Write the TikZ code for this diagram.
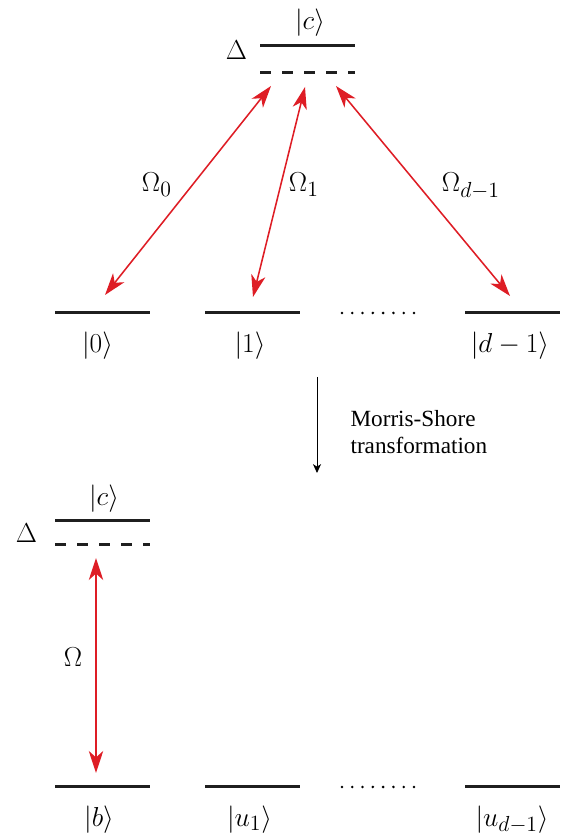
\RequirePackage{fix-cm}
\documentclass[tikz,border=0pt]{standalone}
\usepackage[no-math]{fontspec}
\usepackage{amsmath}
\usepackage{xcolor}
\usepackage{tikz}
\newfontfamily\captionfont{Liberation Serif}
\DeclareMathSizes{19.5}{19.5}{15.5}{12}
\usetikzlibrary{arrows.meta,calc,positioning}
\definecolor{laserred}{RGB}{222,29,37}

\begin{document}
\begin{tikzpicture}[
    every node/.style={font=\fontsize{19.5}{23}\selectfont,align=center},
    level/.style={
        fill=black!88,
        minimum width=2.375cm,
        minimum height=0.075cm,
        inner sep=0pt
    },
    shifted/.style={
        level,
        fill=none,
        path picture={\draw[black!88,line width=0.075cm,dash pattern=on 0.28cm off 0.27cm]
            (path picture bounding box.west) -- (path picture bounding box.east);}
    },
    coupling/.style={{Stealth[length=5.5mm,width=3.6mm,inset=1.6mm]}-{Stealth[length=5.5mm,width=3.6mm,inset=1.6mm]},
        color=laserred,line width=1.1pt},
    arrow/.style={-{Stealth[length=2.2mm,width=2mm,inset=0.6mm]},line width=0.6pt}
]
\useasboundingbox (0,0) rectangle (14.05,20.9);

% Excited state with detuning
\node[level] (excited) at (7.6875,19.75) {};
\node[shifted] (detuned) at (7.6875,19.0875) {};
\node (excitedLabel) at (7.75,20.325) {$|c\rangle$};
\node[anchor=base west] (delta) at (5.525,19.4) {$\Delta$};

% Ground states
\node[level] (zero) at (2.5625,13.075) {};
\node[level] (one) at (6.3125,13.075) {};
\node[level] (last) at (12.8125,13.075) {};
\node (zeroLabel) at (2.4375,12.2625) {$|0\rangle$};
\node (oneLabel) at (6.25,12.2625) {$|1\rangle$};
\node (lastLabel) at (12.75,12.2625) {$|d-1\rangle$};
\foreach \i in {0,...,7} \fill (8.55+\i*0.257,13.075) circle (1pt);

% Couplings
\coordinate (zeroTop) at (6.775,18.75);
\coordinate (oneTop) at (7.625,18.725);
\coordinate (lastTop) at (8.4,18.75);
\coordinate (zeroEnd) at (2.625,13.525);
\coordinate (oneEnd) at (6.325,13.475);
\coordinate (lastEnd) at (12.75,13.5);
\draw[coupling] (zeroTop) -- (zeroEnd);
\draw[coupling] (oneTop) -- (oneEnd);
\draw[coupling] (lastTop) -- (lastEnd);
\node[anchor=base west] (omega0) at (3.425,16.1) {$\Omega_0$};
\node[anchor=base west] (omega1) at (7.1,16.1) {$\Omega_1$};
\node[anchor=base west] (omegaLast) at (10.925,16.1) {$\Omega_{d-1}$};

% Transformation
\coordinate (msStart) at (7.925,11.475);
\coordinate (msEnd) at (7.925,9.075);
\draw[arrow] (msStart) -- (msEnd);
\node[anchor=west,align=left,font=\captionfont\fontsize{16.5}{19.2}\selectfont] (ms) at (8.64,10.11)
{Morris-Shore\\transformation};

% Bright state picture
\node[level] (excitedB) at (2.5625,7.875) {};
\node[shifted] (detunedB) at (2.5625,7.275) {};
\node (excitedBLabel) at (2.6,8.425) {$|c\rangle$};
\node[anchor=base west] (deltaB) at (0.275,7.325) {$\Delta$};

\node[level] (bright) at (2.5625,1.225) {};
\node[level] (dark1) at (6.3125,1.225) {};
\node[level] (darkLast) at (12.8125,1.225) {};
\node (brightLabel) at (2.475,0.4125) {$|b\rangle$};
\node (dark1Label) at (6.2375,0.4125) {$|u_1\rangle$};
\node (darkLastLabel) at (12.8,0.4125) {$|u_{d-1}\rangle$};
\foreach \i in {0,...,7} \fill (8.55+\i*0.257,1.225) circle (1pt);

\coordinate (brightTop) at (2.4,6.95);
\coordinate (brightEnd) at (2.4,1.575);
\draw[coupling] (brightTop) -- (brightEnd);
\node[anchor=base west] (omega) at (1.475,4.225) {$\Omega$};

\end{tikzpicture}
\end{document}
